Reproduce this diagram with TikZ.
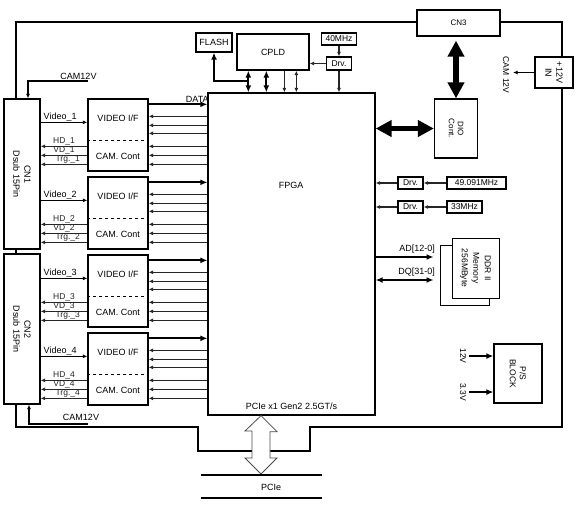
\documentclass[tikz,border=0pt]{standalone}
\usepackage{fontspec}
\setmainfont{Liberation Sans}
\usetikzlibrary{arrows.meta,positioning,calc}

\tikzset{
  box/.style={draw, line width=1.3pt, fill=white, inner sep=0pt, align=center, font=\fontsize{9}{11}\selectfont},
  lbl/.style={inner sep=0.5pt, font=\fontsize{9}{10}\selectfont},
  sml/.style={inner sep=0.5pt, font=\fontsize{8.5}{9}\selectfont},
  sig/.style={-{Latex[length=4.5pt,width=4pt]}, line width=1.1pt, black!85},
  dsig/.style={{Latex[length=4.5pt,width=4pt]}-{Latex[length=4.5pt,width=4pt]}, line width=1.1pt, black!85},
  bus/.style={-{Latex[length=7pt,width=6pt]}, line width=2.2pt},
  dbus/.style={{Latex[length=7pt,width=6pt]}-{Latex[length=7pt,width=6pt]}, line width=2.2pt},
  fat/.style={{Triangle[length=16pt,width=16pt]}-{Triangle[length=16pt,width=16pt]}, line width=5.5pt},
  board/.style={line width=2pt},
}

\begin{document}
\begin{tikzpicture}[x=1pt, y=-1pt]
  \useasboundingbox (0,0) rectangle (580,507);

  % board outline
  \draw[board] (16,427) -- (16,22) -- (562,22) -- (562,427) -- (310,427)
    -- (310,451) -- (198,451) -- (198,427) -- cycle;

  % connectors
  \node[box, rotate=-90, minimum width=150, minimum height=36] (cn1) at (22,174) {CN1\\Dsub 15Pin};
  \node[box, rotate=-90, minimum width=150, minimum height=36] (cn2) at (22,329) {CN2\\Dsub 15Pin};
  \node[box, minimum width=83, minimum height=26, font=\fontsize{8}{9}\selectfont] (cn3) at (458.5,23) {CN3};
  \node[box, rotate=-90, minimum width=31, minimum height=38] (pwrin) at (554,72.5) {+12V\\IN};

  % FPGA
  \node[box, minimum width=167, minimum height=322] (fpga) at (291.5,254) {};
  \node[lbl] (fpgat) at (291,185) {FPGA};
  \node[lbl, above=5pt of fpga.south] (pcit) {PCIe x1 Gen2 2.5GT/s};

  % CPLD, flash, clock
  \node[box, minimum width=36, minimum height=19] (flash) at (214,42.5) {FLASH};
  \node[box, minimum width=72, minimum height=36] (cpld) at (273,52) {CPLD};
  \node[box, minimum width=35, minimum height=12, font=\fontsize{8.5}{9}\selectfont] (osc0) at (339,39) {40MHz};
  \node[box, minimum width=25, minimum height=13, font=\fontsize{8.5}{9}\selectfont] (drv0) at (339,63.5) {Drv.};
  \draw[sig] (osc0.south) -- (drv0.north);
  \draw[sig] (drv0.west) -- (drv0.west -| cpld.east);
  \draw[sig] (drv0.south) -- (drv0.south |- fpga.north);
  \coordinate (c1) at ($(cpld.south west)+(12,0)$);
  \coordinate (c2) at ($(cpld.south west)+(30,0)$);
  \coordinate (c3) at ($(cpld.south west)+(48,0)$);
  \coordinate (c4) at ($(cpld.south west)+(60,0)$);
  \draw[dbus] (c1) -- (c1 |- fpga.north);
  \draw[dbus] (c2) -- (c2 |- fpga.north);
  \draw[sig] (c3) -- (c3 |- fpga.north);
  \draw[dsig] (c4) -- (c4 |- fpga.north);
  \draw[bus] ($(c1)+(0,10)$) -| (flash.south);

  % DIO
  \node[box, rotate=-90, minimum width=59, minimum height=43, font=\fontsize{8}{9}\selectfont] (dio) at (456,128.5) {DIO\\Cont.};
  \draw[fat] ($(cn3.south -| dio.west)+(0,4)$) -- (dio.west);
  \draw[fat] (fpga.east |- dio.south) -- (dio.south);

  % +12V in
  \coordinate (cam12r) at (513,72.5);
  \draw[sig, black] (pwrin.south) -- (cam12r);
  \node[sml, rotate=-90] (cam12rt) at (506,75) {CAM 12V};

  % clocks
  \node[box, minimum width=25, minimum height=12, font=\fontsize{8.5}{9}\selectfont] (drv1) at (410.5,183) {Drv.};
  \node[box, minimum width=59, minimum height=12, font=\fontsize{8.5}{9}\selectfont] (osc1) at (476.5,183) {49.091MHz};
  \node[box, minimum width=25, minimum height=12, font=\fontsize{8.5}{9}\selectfont] (drv2) at (410.5,207) {Drv.};
  \node[box, minimum width=35, minimum height=12, font=\fontsize{8.5}{9}\selectfont] (osc2) at (464.5,207) {33MHz};
  \draw[sig] (osc1.west) -- (drv1.east);
  \draw[sig] (drv1.west) -- (drv1.west -| fpga.east);
  \draw[sig] (osc2.west) -- (drv2.east);
  \draw[sig] (drv2.west) -- (drv2.west -| fpga.east);

  % DDR
  \node[box, line width=1pt, minimum width=49, minimum height=60] (ddrb) at (464.5,275) {};
  \node[box, line width=1pt, rotate=-90, minimum width=60, minimum height=47, font=\fontsize{8.5}{11.5}\selectfont] (ddr) at (475.5,268) {DDR II\\Memory\\256MByte};
  \coordinate (ad) at ($(ddrb.west)+(-6,-18)$);
  \coordinate (dq) at ($(ddrb.west)+(-6,5)$);
  \draw[bus] (fpga.east |- ad) -- (ad) node[lbl, anchor=south east, pos=1, xshift=3pt, yshift=2pt] {AD[12-0]};
  \draw[dbus] (fpga.east |- dq) -- (dq) node[lbl, anchor=south east, pos=1, xshift=3pt, yshift=2pt] {DQ[31-0]};

  % power supply
  \node[box, rotate=-90, minimum width=59, minimum height=48, font=\fontsize{8.5}{10}\selectfont] (ps) at (518,373.5) {P/S\\BLOCK};
  \draw[bus] ($(ps.south)+(-24,-17.5)$) -- ($(ps.south)+(0,-17.5)$);
  \draw[bus] ($(ps.south)+(-24,18.5)$) -- ($(ps.south)+(0,18.5)$);
  \node[sml, rotate=-90] (v12) at (463,356) {12V};
  \node[sml, rotate=-90] (v33) at (463,392) {3.3V};

  % camera channels
  \foreach \n/\y/\c in {1/135/cn1, 2/213/cn1, 3/291/cn2, 4/369/cn2} {
    \node[box, minimum width=60, minimum height=72] (v\n) at (118,\y) {};
    \node[lbl] (vif\n) at ($(v\n.north)+(0,20)$) {VIDEO I/F};
    \node[lbl] (cc\n) at ($(v\n.north)+(0,58)$) {CAM. Cont};
    \draw[dashed, line width=0.8pt] ($(v\n.north west)+(0,42)$) -- ($(v\n.north east)+(0,42)$);
    \coordinate (vid\n) at ($(v\n.north west)+(0,24)$);
    \draw[sig, black] (\c.north |- vid\n) -- (vid\n) node[lbl, above right, pos=0, xshift=2pt] {Video\_\n};
    \foreach \o/\sname/\p in {48/HD/0.5, 57/VD/0.5, 66/Trg./0.42} {
      \coordinate (h) at ($(v\n.north west)+(0,\o)$);
      \draw[sig] (h) -- (h -| \c.north) node[sml, above, pos=\p] {\sname\_\n};
    }
    % to and from FPGA
    \coordinate (dt\n) at ($(v\n.north east)+(0,6)$);
    \draw[bus] (dt\n) -- (dt\n -| fpga.west);
    \foreach \o in {18,27,35,48,57,66} {
      \coordinate (r) at ($(v\n.north east)+(0,\o)$);
      \draw[sig] (r -| fpga.west) -- (r);
    }
  }
  \node[lbl, anchor=south east] (datat) at ($(dt1 -| fpga.west)+(2,-1)$) {DATA};

  % camera power
  \coordinate (camt) at (88,81);
  \draw[sig, black] (camt) -| ($(cn1.west)+(6,0)$);
  \node[lbl, anchor=south] (cam12t) at (78.5,80) {CAM12V};
  \coordinate (camb) at (88,424);
  \draw[sig, black] (camb) -| ($(cn2.east)+(7,0)$);
  \node[lbl, anchor=south] (cam12b) at (81,421) {CAM12V};

  % PCIe
  \draw[black!70, fill=white, line width=0.8pt] (fpga.south -| 261,0) -- ++(16,16) -- ++(-7,0) -- (270,458)
    -- ++(7,0) -- (261,474) -- (245,458) -- ++(7,0) -- (252,431) -- ++(-7,0) -- cycle;
  \draw[line width=1.8pt] (201,475) -- (322,475);
  \draw[line width=1.8pt] (201,498) -- (322,498);
  \node[lbl] (pcie) at (271,487) {PCIe};
\end{tikzpicture}
\end{document}
